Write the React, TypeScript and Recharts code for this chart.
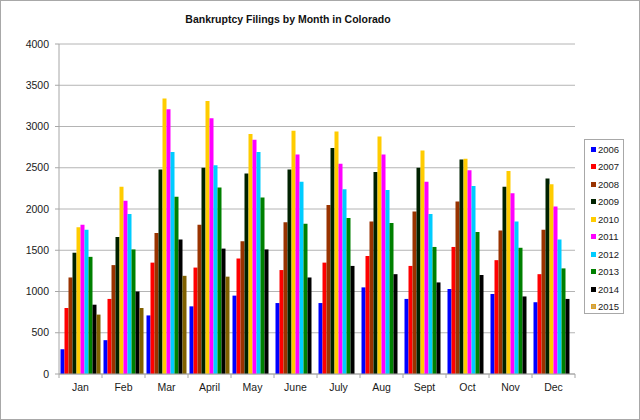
import React from 'react';
import { BarChart, Bar, XAxis, YAxis, CartesianGrid } from 'recharts';

const MONTHS = ['Jan', 'Feb', 'Mar', 'April', 'May', 'June', 'July', 'Aug', 'Sept', 'Oct', 'Nov', 'Dec'];
const Y_TICKS = [0, 500, 1000, 1500, 2000, 2500, 3000, 3500, 4000];

const Y2006 = [300, 410, 710, 820, 950, 860, 860, 1050, 910, 1030, 970, 870];
const Y2007 = [800, 910, 1350, 1290, 1400, 1260, 1350, 1430, 1310, 1540, 1380, 1210];
const Y2008 = [1170, 1320, 1710, 1810, 1610, 1840, 2050, 1850, 1970, 2090, 1740, 1750];
const Y2009 = [1470, 1660, 2480, 2500, 2430, 2480, 2740, 2450, 2500, 2600, 2270, 2370];
const Y2010 = [1780, 2270, 3340, 3310, 2910, 2950, 2940, 2880, 2710, 2610, 2460, 2300];
const Y2011 = [1810, 2100, 3210, 3100, 2840, 2660, 2550, 2660, 2330, 2470, 2190, 2030];
const Y2012 = [1750, 1940, 2690, 2530, 2690, 2330, 2240, 2230, 1940, 2280, 1850, 1630];
const Y2013 = [1420, 1510, 2150, 2260, 2140, 1820, 1890, 1830, 1540, 1720, 1530, 1280];
const Y2014 = [840, 1000, 1630, 1520, 1510, 1170, 1310, 1210, 1110, 1200, 940, 910];
const Y2015 = [720, 800, 1190, 1180, null, null, null, null, null, null, null, null];

const SERIES = [
  { key: '2006', values: Y2006, color: '#0000ff' },
  { key: '2007', values: Y2007, color: '#ff0000' },
  { key: '2008', values: Y2008, color: '#993300' },
  { key: '2009', values: Y2009, color: '#002200' },
  { key: '2010', values: Y2010, color: '#ffcc00' },
  { key: '2011', values: Y2011, color: '#ff00ff' },
  { key: '2012', values: Y2012, color: '#00ccff' },
  { key: '2013', values: Y2013, color: '#008000' },
  { key: '2014', values: Y2014, color: '#000000' },
  { key: '2015', values: Y2015, color: '#806000' },
];

const rows = MONTHS.map((m, i) => {
  const row: Record<string, any> = { month: m };
  SERIES.forEach((s) => {
    row[s.key] = s.values[i];
  });
  return row;
});

const FONT = 'Arial, "Liberation Sans", sans-serif';
const AXIS_GRAY = '#a6a6a6';
const BAND = 43;

const MonthTick = (props: any) => {
  const { x, y, payload, index } = props;
  return (
    <g>
      <line x1={x - BAND / 2} x2={x - BAND / 2} y1={y} y2={y + 4} stroke={AXIS_GRAY} />
      {index === MONTHS.length - 1 && (
        <line x1={x + BAND / 2} x2={x + BAND / 2} y1={y} y2={y + 4} stroke={AXIS_GRAY} />
      )}
      <text x={x} y={y + 17} textAnchor="middle" fontSize={10.5} fontFamily={FONT} fill="#1a1a1a">
        {payload.value}
      </text>
    </g>
  );
};

export default function App() {
  return (
    <div
      style={{
        position: 'absolute',
        left: 0,
        top: 0,
        width: 640,
        height: 420,
        boxSizing: 'border-box',
        border: '1px solid #a8a8a8',
        background: '#fff',
        fontFamily: FONT,
      }}
    >
      <div
        style={{
          position: 'absolute',
          left: 0,
          top: 12,
          width: 574,
          textAlign: 'center',
          fontSize: 10.5,
          fontWeight: 'bold',
          color: '#111',
        }}
      >
        Bankruptcy Filings by Month in Colorado
      </div>
      <div style={{ position: 'absolute', left: -1, top: -1 }}>
        <BarChart
          width={640}
          height={420}
          data={rows}
          margin={{ top: 44, right: 65, left: 0, bottom: 16 }}
          barCategoryGap={1.5}
          barGap={0}
        >
          <CartesianGrid vertical={false} stroke="#b4b4b4" />
          <XAxis
            dataKey="month"
            height={30}
            stroke={AXIS_GRAY}
            tickLine={false}
            tickSize={0}
            tickMargin={0}
            interval={0}
            tick={<MonthTick />}
          />
          <YAxis
            width={59}
            domain={[0, 4000]}
            ticks={Y_TICKS}
            interval={0}
            stroke={AXIS_GRAY}
            tickSize={4}
            tickMargin={6}
            tick={{ fontSize: 10.5, fontFamily: FONT, fill: '#1a1a1a' }}
          />
          {SERIES.map((s) => (
            <Bar key={s.key} dataKey={s.key} fill={s.color} isAnimationActive={false} />
          ))}
        </BarChart>
      </div>
      <div
        style={{
          position: 'absolute',
          left: 583,
          top: 138,
          width: 40,
          height: 175,
          boxSizing: 'border-box',
          border: '1px solid #a8a8a8',
          background: '#fff',
        }}
      >
        {SERIES.map((s, i) => (
          <div
            key={s.key}
            style={{
              position: 'absolute',
              left: 6,
              top: 3 + i * 17.5,
              height: 12,
              display: 'flex',
              alignItems: 'center',
              fontSize: 9.5,
              color: '#1a1a1a',
            }}
          >
            <span
              style={{
                display: 'inline-block',
                width: 5,
                height: 5,
                marginRight: 2,
                boxSizing: 'border-box',
                background: s.key === '2015' ? '#c8a860' : s.color,
                border: s.key === '2015' ? '1px solid #e0a020' : 'none',
              }}
            />
            {s.key}
          </div>
        ))}
      </div>
    </div>
  );
}
